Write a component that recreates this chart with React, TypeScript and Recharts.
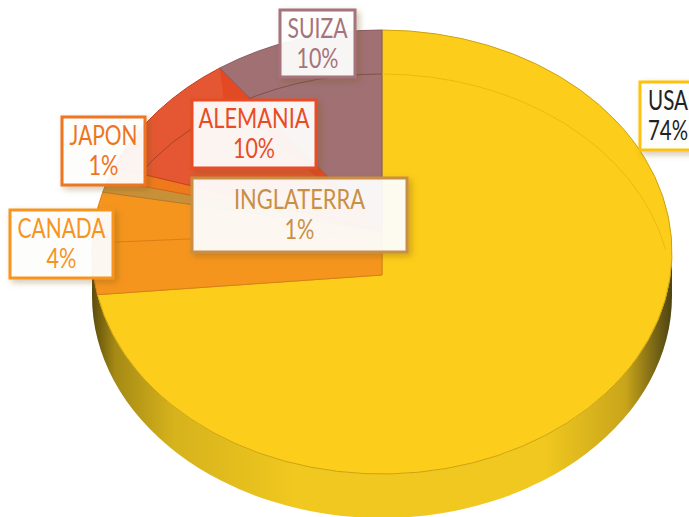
import { Pie, PieChart } from 'recharts'

const countries = ['USA', 'CANADA', 'INGLATERRA', 'JAPON', 'ALEMANIA', 'SUIZA']
const shares = [74, 4, 1, 1, 10, 10]
const fills = ['#fdcd1b', '#f5951e', '#c9903a', '#ef7a1d', '#e45732', '#a07073']
const edges = ['#cda20f', '#d97f14', '#b27d2e', '#d8660f', '#c2431f', '#8a5a60']
const labelColors = ['#222222', '#f7941e', '#c98f45', '#ee7420', '#e84c26', '#a5737b']
const labelBorders = ['#fdc20c', '#f7941e', '#c98f45', '#ee7420', '#e84c26', '#a5737b']
// x, y, w, h of each label box
const labelBoxes = [
  [640, 82, 56, 68],
  [10, 210, 103, 68],
  [192, 178, 215, 74],
  [62, 117, 83, 68],
  [192, 100, 124, 68],
  [280, 10, 75, 67],
]
// squeezed text widths, the reference uses a narrow face
const nameWidths = [40, 88, 131, 68, 111, 60]
const shareWidths = [40, 30, 30, 30, 42, 42]

const data = countries.map((name, i) => ({ name, value: shares[i], fill: fills[i] }))

const W = 689
const H = 517
const CX = 382
const CY = 252
const RX = 290
const RY = 222
const DEPTH = 44
// the pie centre sits above the cut wall of the front slices
const HUB_Y = 231
const WALL_HUB_Y = 275
const LABEL_FONT = "Lato, 'Liberation Sans', sans-serif"

// phi = clockwise degrees from 12 o'clock
const rimPoint = (phi: number) => {
  const rad = (phi * Math.PI) / 180
  const low = phi <= 270
  const ay = low ? WALL_HUB_Y : HUB_Y
  const k = low ? 1.1 : 0.73
  const dx = Math.sin(rad)
  const dy = -Math.cos(rad) * k
  const oy = ay - CY
  const a = (dx * dx) / (RX * RX) + (dy * dy) / (RY * RY)
  const b = (2 * oy * dy) / (RY * RY)
  const c = (oy * oy) / (RY * RY) - 1
  const t = (-b + Math.sqrt(b * b - 4 * a * c)) / (2 * a)
  return { x: CX + dx * t, y: ay + dy * t }
}

const hubFor = (phi: number) => ({ x: CX, y: phi <= 270 ? WALL_HUB_Y : HUB_Y })

const SliceShape = (props: any) => {
  const phi0 = 90 - props.startAngle
  const phi1 = 90 - props.endAngle
  const p0 = rimPoint(phi0)
  const p1 = rimPoint(phi1)
  const h0 = hubFor(phi0)
  const h1 = hubFor(phi1)
  const large = phi1 - phi0 > 180 ? 1 : 0
  const idx = countries.indexOf(props.name ?? props.payload?.name)
  const d = `M${h0.x},${h0.y} L${p0.x},${p0.y} A${RX},${RY} 0 ${large} 1 ${p1.x},${p1.y} L${h1.x},${h1.y} Z`
  const isFront = phi0 < 270 && phi1 > 270
  return (
    <g>
      {idx === 0 && (
        <path
          d={`M${CX - RX},${CY} A${RX},${RY} 0 0 0 ${CX + RX},${CY} L${CX + RX},${CY + DEPTH} A${RX},${RY} 0 0 1 ${CX - RX},${CY + DEPTH} Z`}
          fill="url(#wallGrad)"
        />
      )}
      <path d={d} fill={fills[idx]} stroke={edges[idx]} strokeWidth={1} />
      {isFront && <line x1={CX - RX} y1={243} x2={CX} y2={HUB_Y} stroke={edges[idx]} strokeWidth={1} />}
      {countries[idx] === 'ALEMANIA' && (
        <path d={`M${p1.x},${p1.y} L${h1.x},${h1.y} L${p1.x + 4},${p1.y + 32} Z`} fill="#e34a24" />
      )}
    </g>
  )
}

// back edge of the bottom face, seen through the top
const BackRimShape = (props: any) => {
  const phi0 = 90 - props.startAngle
  const phi1 = 90 - props.endAngle
  if (phi1 <= 270) {
    const endX = CX + RX * Math.sin((78 * Math.PI) / 180)
    const endY = CY + DEPTH - RY * Math.cos((78 * Math.PI) / 180)
    return <path d={`M${CX},${CY + DEPTH - RY} A${RX},${RY} 0 0 1 ${endX},${endY}`} fill="none" stroke="#eeb90f" strokeWidth={1} />
  }
  if (phi0 < 287) return <g />
  const p0 = rimPoint(Math.max(phi0, 298))
  const p1 = rimPoint(phi1)
  return (
    <path
      d={`M${p0.x},${p0.y + DEPTH} A${RX},${RY} 0 0 1 ${p1.x},${p1.y + DEPTH}`}
      fill="none"
      stroke="rgba(90,40,30,0.45)"
      strokeWidth={1}
    />
  )
}

const BoxLabel = (props: any) => {
  const i = props.index
  const [x, y, w, h] = labelBoxes[i]
  const mid = x + w / 2
  const base = y + h / 2 - 4
  const textProps = {
    x: mid,
    textAnchor: 'middle' as const,
    fontFamily: LABEL_FONT,
    fontSize: 27,
    fill: labelColors[i],
    lengthAdjust: 'spacingAndGlyphs' as const,
  }
  return (
    <g>
      <rect x={x} y={y} width={w} height={h} fill="#ffffff" fillOpacity={0.92} stroke={labelBorders[i]} strokeWidth={3} filter="url(#boxShadow)" />
      <text {...textProps} y={base - 2} textLength={nameWidths[i]}>
        {countries[i]}
      </text>
      <text {...textProps} y={base + 28} textLength={shareWidths[i]}>
        {shares[i]}%
      </text>
    </g>
  )
}

export default function App() {
  return (
    <div style={{ position: 'absolute', left: 0, top: 0, width: W, height: H, background: '#fff' }}>
      <PieChart width={W} height={H} margin={{ top: 0, right: 0, bottom: 0, left: 0 }}>
        <defs>
          <linearGradient id="wallGrad" x1="0" y1="0" x2="1" y2="0">
            <stop offset="0" stopColor="#5c4c0c" />
            <stop offset="0.04" stopColor="#a58a14" />
            <stop offset="0.14" stopColor="#d6b21c" />
            <stop offset="0.35" stopColor="#f0c81f" />
            <stop offset="0.78" stopColor="#f0c81f" />
            <stop offset="0.92" stopColor="#c9a51a" />
            <stop offset="0.98" stopColor="#6a5a14" />
            <stop offset="1" stopColor="#4f4410" />
          </linearGradient>
          <filter id="boxShadow" x="-20%" y="-20%" width="150%" height="150%">
            <feDropShadow dx={3} dy={3} stdDeviation={3} floodColor="#7a5a20" floodOpacity={0.35} />
          </filter>
        </defs>
        <Pie
          data={data}
          dataKey="value"
          nameKey="name"
          cx={CX}
          cy={CY}
          outerRadius={RX}
          startAngle={90}
          endAngle={-270}
          paddingAngle={0}
          stroke="none"
          isAnimationActive={false}
          shape={SliceShape}
        />
        <Pie
          data={data}
          dataKey="value"
          nameKey="name"
          cx={CX}
          cy={CY}
          outerRadius={RX}
          startAngle={90}
          endAngle={-270}
          stroke="none"
          isAnimationActive={false}
          shape={BackRimShape}
          labelLine={false}
          label={BoxLabel}
        />
      </PieChart>
    </div>
  )
}
